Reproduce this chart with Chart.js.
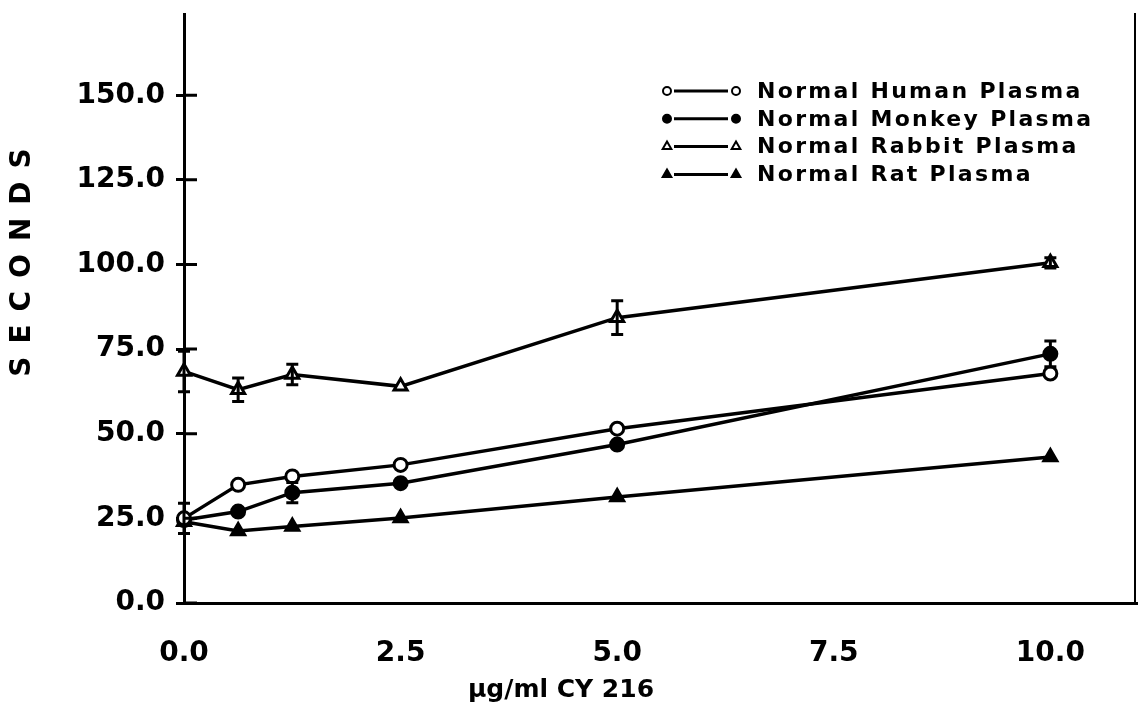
<!DOCTYPE html>
<html>
<head>
<meta charset="utf-8">
<title>CY 216 - clotting time in normal plasma</title>
<script src="https://cdn.jsdelivr.net/npm/chart.js"></script>
<style>
  html, body { margin: 0; padding: 0; background: #fff; }
  #wrap { position: relative; width: 1138px; height: 713px; }
</style>
</head>
<body>
<div id="wrap"><canvas id="plasmaChart"></canvas></div>
<script>
// dose, ug/ml CY 216
var doses = [0, 0.625, 1.25, 2.5, 5, 10];

// clotting time in seconds
var humanPlasma = [25.0, 34.9, 37.4, 40.8, 51.5, 67.8];
var monkeyPlasma = [24.5, 27.0, 32.6, 35.4, 46.8, 73.6];
var rabbitPlasma = [68.4, 63.0, 67.5, 64.0, 84.3, 100.5];
var ratPlasma = [24.0, 21.3, 22.6, 25.1, 31.3, 43.1];

// half length of the error bars (0 = no bar)
var humanErr = [4.5, 0, 0, 0, 0, 0];
var monkeyErr = [0, 0, 3, 0, 0, 3.8];
var rabbitErr = [6, 3.5, 3, 0, 5, 1.5];
var ratErr = [0, 0, 0, 0, 0, 0];

var seriesNames = [
  "Normal Human Plasma",
  "Normal Monkey Plasma",
  "Normal Rabbit Plasma",
  "Normal Rat Plasma"
];
var xTicks = [0, 2.5, 5, 7.5, 10];
var yTicks = [0, 25, 50, 75, 100, 125, 150];
var xTitle = "µg/ml CY 216";
var yTitle = "SECONDS";

function makeSeries(name, values, errors, style, filled) {
  return {
    label: name,
    data: doses.map(function (d, i) {
      return { x: d, y: values[i] };
    }),
    errors: errors,
    filled: filled,
    showLine: true,
    clip: false,
    borderColor: "#000",
    borderWidth: 3.5,
    pointStyle: style,
    pointRadius: style === "triangle" ? 7.5 : 6.5,
    pointBorderWidth: 3,
    pointBorderColor: "#000",
    pointBackgroundColor: filled ? "#000" : "#fff"
  };
}

function drawMarker(ctx, style, filled, x, y, r) {
  ctx.beginPath();
  if (style === "triangle") {
    var rr = r * 1.25;
    ctx.moveTo(x, y - rr);
    ctx.lineTo(x + rr * 0.866, y + rr * 0.5);
    ctx.lineTo(x - rr * 0.866, y + rr * 0.5);
    ctx.closePath();
  } else {
    ctx.arc(x, y, r, 0, Math.PI * 2);
  }
  ctx.fillStyle = filled ? "#000" : "#fff";
  ctx.fill();
  ctx.lineWidth = 2;
  ctx.strokeStyle = "#000";
  ctx.stroke();
}

// vertical error bars with caps
var errorBars = {
  id: "errorBars",
  afterDatasetsDraw: function (chart) {
    var ctx = chart.ctx;
    var xs = chart.scales.x;
    var ys = chart.scales.y;
    ctx.save();
    ctx.strokeStyle = "#000";
    ctx.lineWidth = 3;
    chart.data.datasets.forEach(function (ds) {
      ds.data.forEach(function (p, i) {
        var e = ds.errors[i];
        if (!e) return;
        var px = xs.getPixelForValue(p.x);
        var top = ys.getPixelForValue(p.y + e);
        var bot = ys.getPixelForValue(p.y - e);
        ctx.beginPath();
        ctx.moveTo(px, top);
        ctx.lineTo(px, bot);
        ctx.moveTo(px - 6, top);
        ctx.lineTo(px + 6, top);
        ctx.moveTo(px - 6, bot);
        ctx.lineTo(px + 6, bot);
        ctx.stroke();
      });
    });
    ctx.restore();
  }
};

// inner half of the y tick marks, right frame line, titles, legend
var decorations = {
  id: "decorations",
  afterDraw: function (chart) {
    var ctx = chart.ctx;
    var area = chart.chartArea;
    var ys = chart.scales.y;
    ctx.save();
    ctx.strokeStyle = "#000";
    ctx.lineWidth = 3;
    ctx.beginPath();
    yTicks.forEach(function (v) {
      var py = ys.getPixelForValue(v);
      ctx.moveTo(area.left, py);
      ctx.lineTo(area.left + 13, py);
    });
    ctx.stroke();

    ctx.lineWidth = 2;
    ctx.beginPath();
    ctx.moveTo(area.right - 2, area.top - 1);
    ctx.lineTo(area.right - 2, area.bottom);
    ctx.stroke();

    // axis titles
    ctx.fillStyle = "#000";
    ctx.textAlign = "center";
    ctx.textBaseline = "middle";
    ctx.font = "bold 25px 'DejaVu Sans'";
    ctx.fillText(xTitle, 561, 690);

    ctx.save();
    ctx.translate(23, 262);
    ctx.rotate(-Math.PI / 2);
    ctx.font = "bold 28px 'DejaVu Sans'";
    ctx.letterSpacing = "13px";
    ctx.fillText(yTitle, 6, 0);
    ctx.restore();

    // legend: marker - line - marker - name
    chart.data.datasets.forEach(function (ds, i) {
      var y = 91 + i * 27.8;
      ctx.lineWidth = 3;
      ctx.strokeStyle = "#000";
      ctx.beginPath();
      ctx.moveTo(674, y);
      ctx.lineTo(728, y);
      ctx.stroke();
      drawMarker(ctx, ds.pointStyle, ds.filled, 667, y, 4);
      drawMarker(ctx, ds.pointStyle, ds.filled, 736, y, 4);
      ctx.fillStyle = "#000";
      ctx.textAlign = "left";
      ctx.font = "bold 22px 'DejaVu Sans'";
      ctx.letterSpacing = "2.3px";
      ctx.fillText(ds.label, 757, y + 1);
      ctx.letterSpacing = "0px";
    });
    ctx.restore();
  }
};

var tickFont = { family: "DejaVu Sans", size: 28, weight: "bold" };

new Chart(document.getElementById("plasmaChart"), {
  type: "scatter",
  data: {
    datasets: [
      makeSeries(seriesNames[0], humanPlasma, humanErr, "circle", false),
      makeSeries(seriesNames[1], monkeyPlasma, monkeyErr, "circle", true),
      makeSeries(seriesNames[2], rabbitPlasma, rabbitErr, "triangle", false),
      makeSeries(seriesNames[3], ratPlasma, ratErr, "triangle", true)
    ]
  },
  options: {
    responsive: true,
    maintainAspectRatio: false,
    animation: false,
    layout: { autoPadding: false, padding: { top: 14, right: 1, left: 0, bottom: 0 } },
    plugins: {
      legend: { display: false },
      tooltip: { enabled: false }
    },
    scales: {
      x: {
        type: "linear",
        min: 0,
        max: 11,
        afterBuildTicks: function (scale) {
          scale.ticks = xTicks.map(function (v) { return { value: v }; });
        },
        afterFit: function (scale) {
          scale.height = 110;
          scale.paddingLeft = 0;
          scale.paddingRight = 0;
        },
        grid: { display: false, drawTicks: false },
        border: { display: true, color: "#000", width: 3 },
        ticks: {
          padding: 34,
          color: "#000",
          font: tickFont,
          maxRotation: 0,
          autoSkip: false,
          callback: function (v) { return v.toFixed(1); }
        }
      },
      y: {
        type: "linear",
        min: 0,
        max: 174,
        afterBuildTicks: function (scale) {
          scale.ticks = yTicks.map(function (v) { return { value: v }; });
        },
        afterFit: function (scale) {
          scale.width = 184;
          scale.paddingTop = 0;
          scale.paddingBottom = 0;
        },
        grid: {
          drawOnChartArea: false,
          drawTicks: true,
          tickLength: 8,
          tickWidth: 3,
          tickColor: "#000"
        },
        border: { display: true, color: "#000", width: 3 },
        ticks: {
          padding: 11,
          color: "#000",
          font: tickFont,
          autoSkip: false,
          callback: function (v) { return v.toFixed(1); }
        }
      }
    }
  },
  plugins: [errorBars, decorations]
});
</script>
</body>
</html>
